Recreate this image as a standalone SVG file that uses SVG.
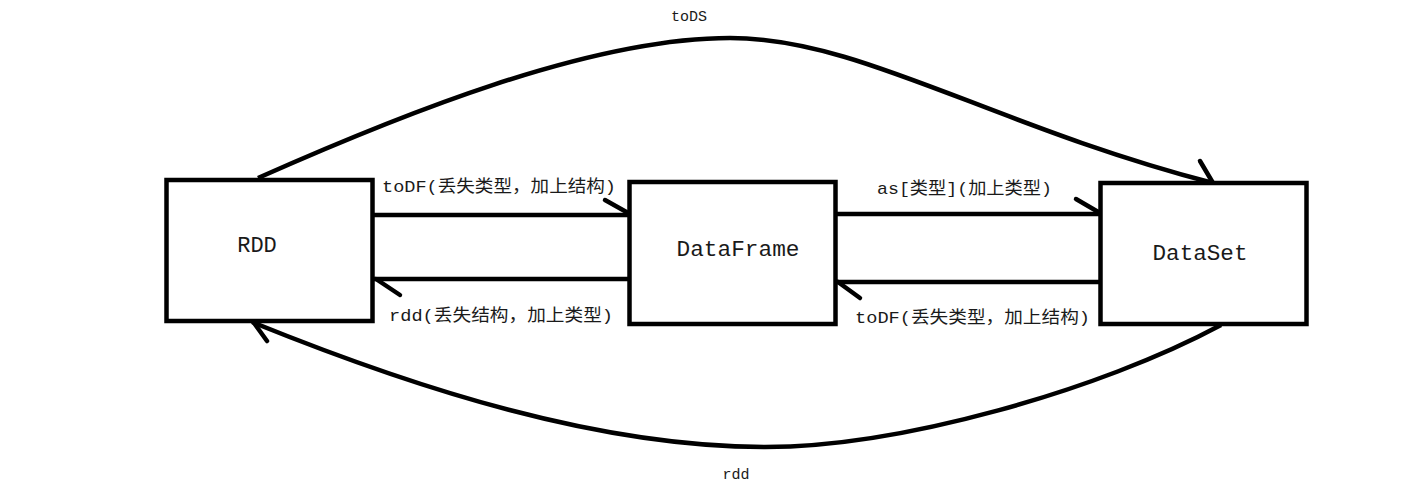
<svg xmlns="http://www.w3.org/2000/svg" width="1424" height="489" viewBox="0 0 1424 489">
<style>
.box{fill:#fff;stroke:#000;stroke-width:4.5}
.ln{fill:none;stroke:#000;stroke-width:4.5;stroke-linecap:butt}
.barb{fill:none;stroke:#000;stroke-width:4.5;stroke-linecap:round}
.node{font-family:"Liberation Mono","Noto Sans CJK SC",monospace;font-size:22px;fill:#1a1a1a;text-anchor:middle}
.lbl{font-family:"Liberation Mono","Noto Sans CJK SC",monospace;font-size:17px;fill:#1a1a1a}
.lblc{font-family:"Liberation Mono","Noto Sans CJK SC",monospace;font-size:15px;fill:#1a1a1a;text-anchor:middle}
</style>
<rect width="1424" height="489" fill="#fff"/>
<g id="connectors">
  <g id="e-rdd-df">
    <path class="ln" d="M373,215 H631"/>
    <path class="barb" d="M605,200 L630,214"/>
    <text class="lbl" x="382" y="192" textLength="234" lengthAdjust="spacingAndGlyphs">toDF(丢失类型，加上结构)</text>
  </g>
  <g id="e-df-rdd">
    <path class="ln" d="M629,279 H373"/>
    <path class="barb" d="M376,279 L400,295"/>
    <text class="lbl" x="389" y="321" textLength="224" lengthAdjust="spacingAndGlyphs">rdd(丢失结构，加上类型)</text>
  </g>
  <g id="e-df-ds">
    <path class="ln" d="M836,214 H1101"/>
    <path class="barb" d="M1076,199 L1100,213"/>
    <text class="lbl" x="877" y="194" textLength="175" lengthAdjust="spacingAndGlyphs">as[类型](加上类型)</text>
  </g>
  <g id="e-ds-df">
    <path class="ln" d="M1101,282 H836"/>
    <path class="barb" d="M838,282 L860,298"/>
    <text class="lbl" x="855" y="323" textLength="235" lengthAdjust="spacingAndGlyphs">toDF(丢失类型，加上结构)</text>
  </g>
  <g id="e-rdd-ds">
    <path class="ln" d="M258,178 C400,115 590,38 730,38 C860,38 990,125 1213,183"/>
    <path class="barb" d="M1200,161 L1213,183"/>
    <text class="lblc" x="689" y="21">toDS</text>
  </g>
  <g id="e-ds-rdd">
    <path class="ln" d="M1221,325 C1100,390 900,447 765,447 C600,447 420,390 252,322"/>
    <path class="barb" d="M254,323 L267,341"/>
    <text class="lblc" x="736" y="479">rdd</text>
  </g>
</g>
<g id="n-rdd">
  <rect class="box" x="166.5" y="180" width="206" height="141"/>
  <text class="node" x="257" y="252">RDD</text>
</g>
<g id="n-df">
  <rect class="box" x="629.5" y="182" width="206" height="142"/>
  <text class="node" x="738" y="256" textLength="123" lengthAdjust="spacingAndGlyphs">DataFrame</text>
</g>
<g id="n-ds">
  <rect class="box" x="1100.5" y="183" width="206" height="141"/>
  <text class="node" x="1200" y="260" textLength="95" lengthAdjust="spacingAndGlyphs">DataSet</text>
</g>
</svg>
